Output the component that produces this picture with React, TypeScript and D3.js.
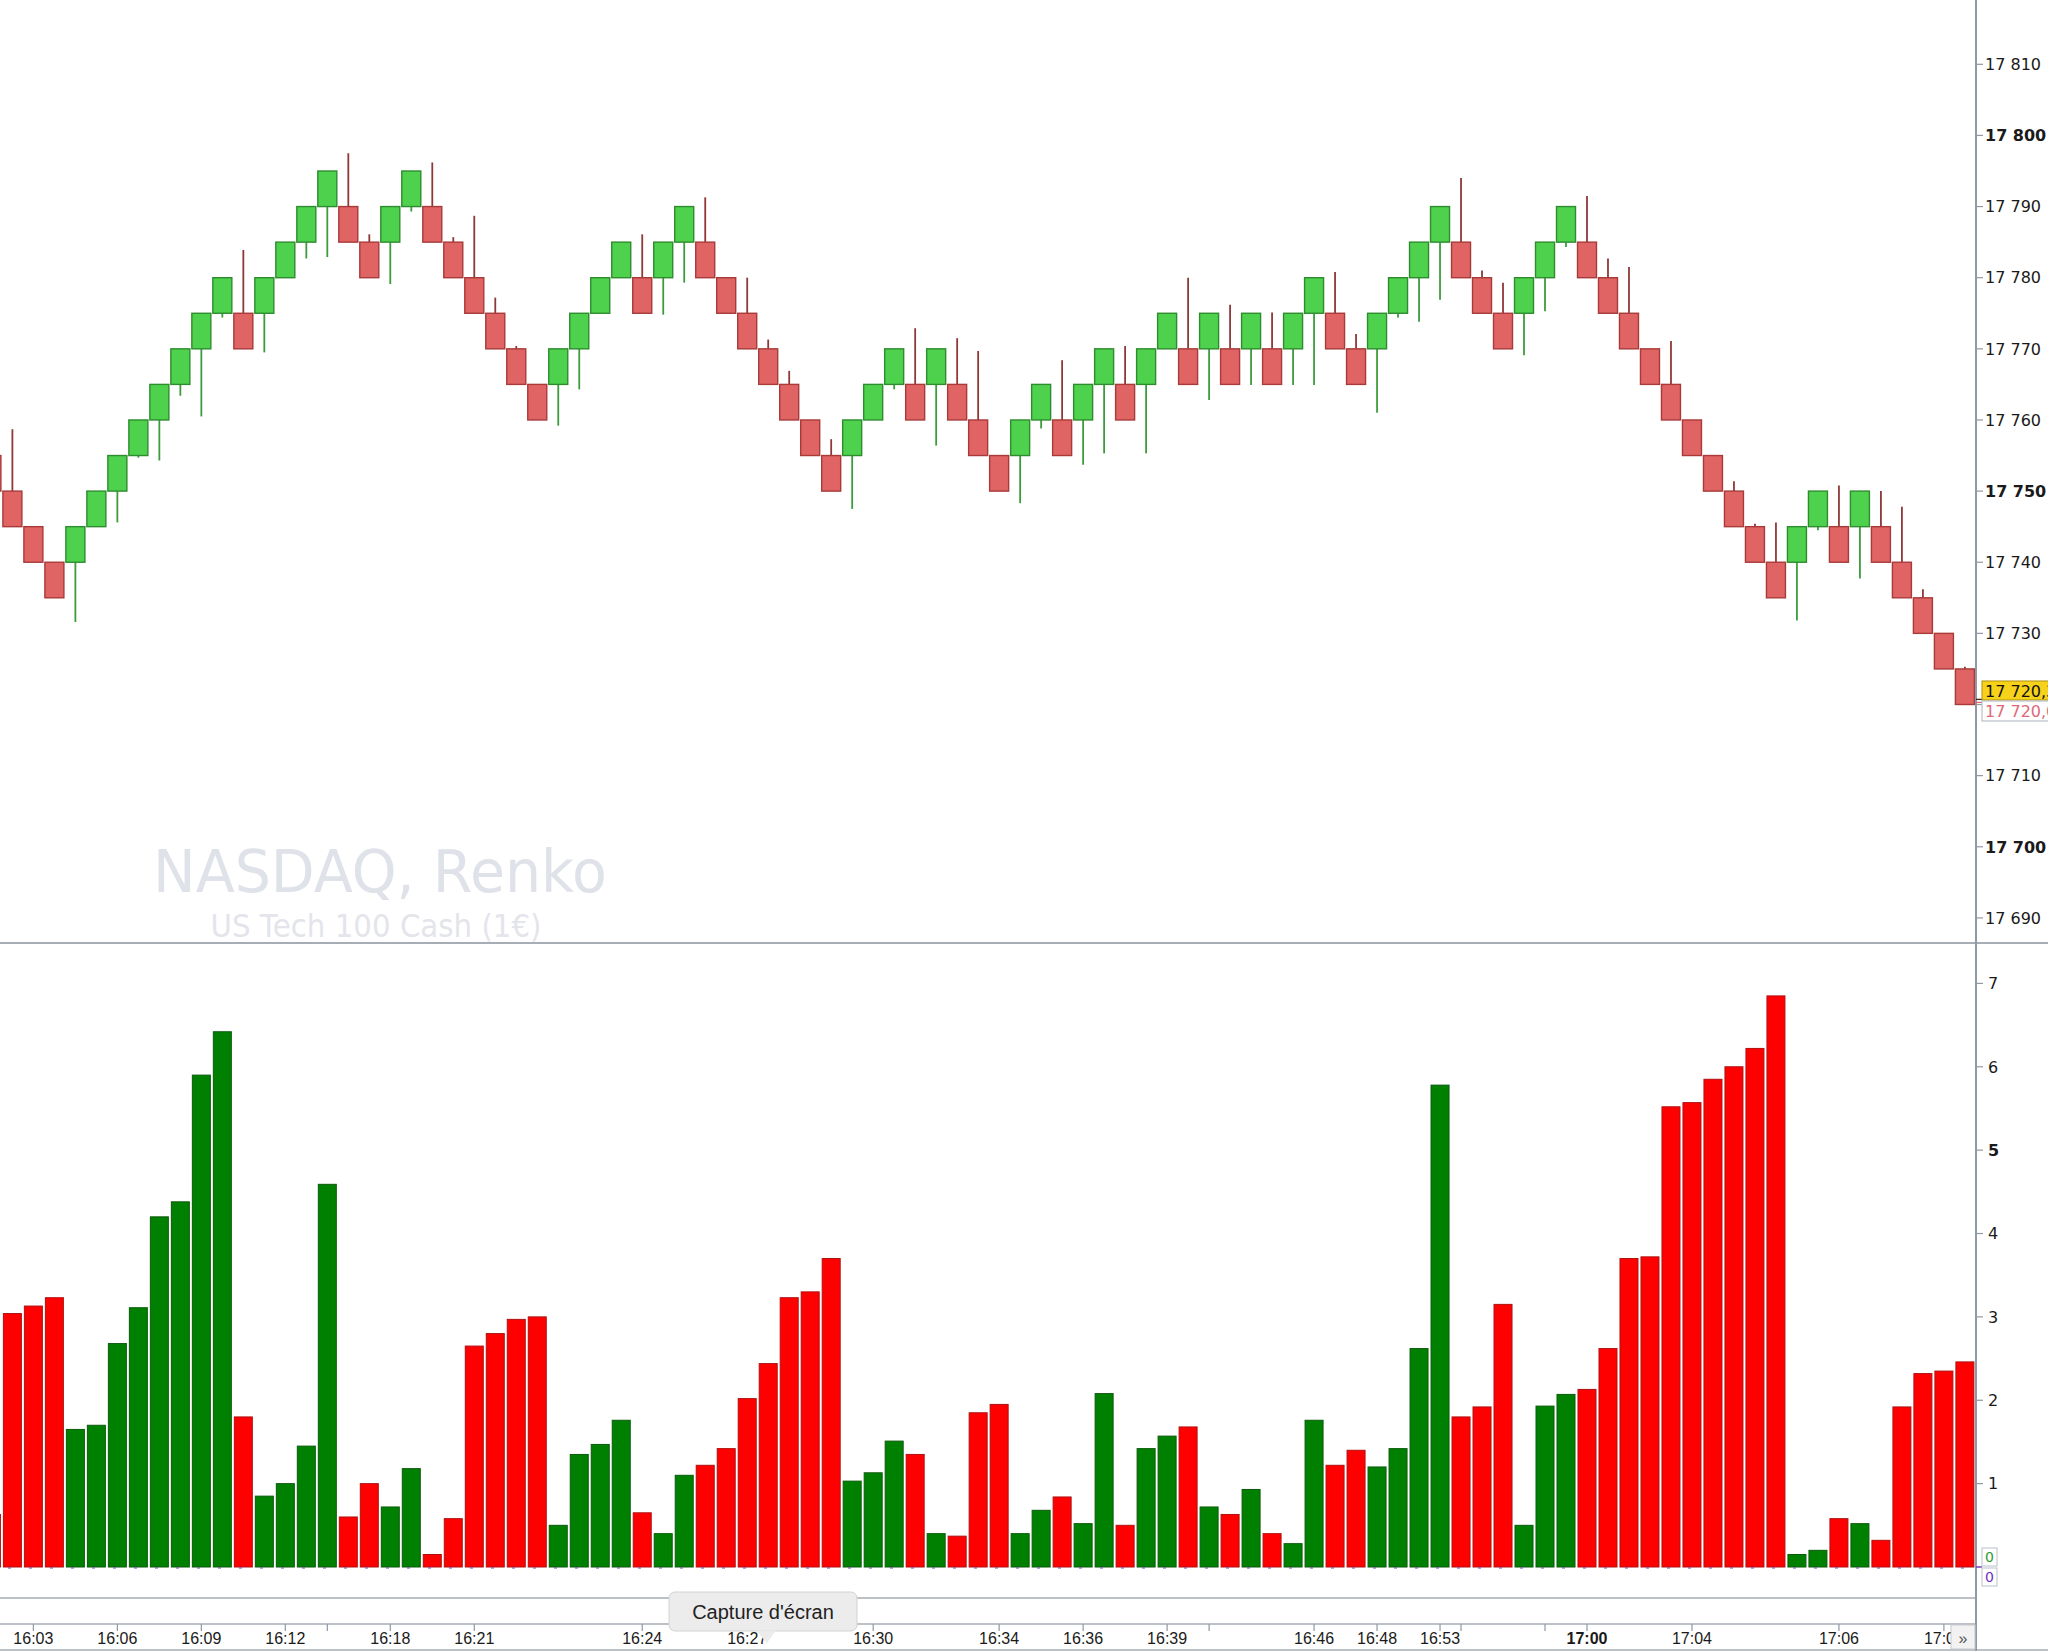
import React, { useEffect } from 'react';
import * as d3 from 'd3';

// Renko bricks (index 0 is the partly hidden column at the left edge)
const brickOpen = [
  17755, 17750, 17745, 17740, 17740, 17745, 17750, 17755, 17760, 17765,
  17770, 17775, 17775, 17775, 17780, 17785, 17790, 17790, 17785, 17785,
  17790, 17790, 17785, 17780, 17775, 17770, 17765, 17765, 17770, 17775,
  17780, 17780, 17780, 17785, 17785, 17780, 17775, 17770, 17765, 17760,
  17755, 17755, 17760, 17765, 17765, 17765, 17765, 17760, 17755, 17755,
  17760, 17760, 17760, 17765, 17765, 17765, 17770, 17770, 17770, 17770,
  17770, 17770, 17770, 17775, 17775, 17770, 17770, 17775, 17780, 17785,
  17785, 17780, 17775, 17775, 17780, 17785, 17785, 17780, 17775, 17770,
  17765, 17760, 17755, 17750, 17745, 17740, 17740, 17745, 17745, 17745,
  17745, 17740, 17735, 17730, 17725,
];
const brickClose = [
  17750, 17745, 17740, 17735, 17745, 17750, 17755, 17760, 17765, 17770,
  17775, 17780, 17770, 17780, 17785, 17790, 17795, 17785, 17780, 17790,
  17795, 17785, 17780, 17775, 17770, 17765, 17760, 17770, 17775, 17780,
  17785, 17775, 17785, 17790, 17780, 17775, 17770, 17765, 17760, 17755,
  17750, 17760, 17765, 17770, 17760, 17770, 17760, 17755, 17750, 17760,
  17765, 17755, 17765, 17770, 17760, 17770, 17775, 17765, 17775, 17765,
  17775, 17765, 17775, 17780, 17770, 17765, 17775, 17780, 17785, 17790,
  17780, 17775, 17770, 17780, 17785, 17790, 17780, 17775, 17770, 17765,
  17760, 17755, 17750, 17745, 17740, 17735, 17745, 17750, 17740, 17750,
  17740, 17735, 17730, 17725, 17720,
];
const brickHigh = [
  17755, 17758.7, 17745, 17740, 17745, 17750, 17755, 17760, 17765, 17770,
  17775, 17780, 17783.9, 17780, 17785, 17790, 17795, 17797.5, 17786.1, 17790,
  17795, 17796.2, 17785.7, 17788.7, 17777.2, 17770.4, 17765, 17770, 17775, 17780,
  17785, 17786.1, 17785, 17790, 17791.3, 17780, 17780, 17771.3, 17766.9, 17760,
  17757.3, 17760, 17765, 17770, 17772.9, 17770, 17771.5, 17769.7, 17755, 17760,
  17765, 17768.4, 17765, 17770, 17770.4, 17770, 17775, 17780, 17775, 17776.2,
  17775, 17775.1, 17775, 17780, 17780.8, 17772.1, 17775, 17780, 17785, 17790,
  17794, 17781, 17779.3, 17780, 17785, 17790, 17791.5, 17782.7, 17781.5, 17770,
  17771.1, 17760, 17755, 17751.4, 17745.4, 17745.6, 17745, 17750, 17750.8, 17750,
  17750, 17747.8, 17736.2, 17730, 17725.3,
];
const brickLow = [
  17750, 17745, 17740, 17735, 17731.6, 17745, 17745.6, 17754.7, 17754.3, 17763.4,
  17760.5, 17774.4, 17770, 17769.5, 17780, 17782.7, 17782.9, 17785, 17780, 17779.1,
  17789.3, 17785, 17780, 17775, 17770, 17765, 17760, 17759.2, 17764.3, 17775,
  17780, 17775, 17774.8, 17779.3, 17780, 17775, 17770, 17765, 17760, 17755,
  17750, 17747.5, 17760, 17764.3, 17760, 17756.4, 17760, 17755, 17750, 17748.3,
  17758.8, 17755, 17753.7, 17755.3, 17760, 17755.3, 17770, 17765, 17762.8, 17765,
  17764.9, 17765, 17764.9, 17764.9, 17770, 17765, 17761, 17774.4, 17773.8, 17776.9,
  17780, 17775, 17770, 17769.1, 17775.3, 17784.3, 17780, 17775, 17770, 17765,
  17760, 17755, 17750, 17745, 17740, 17735, 17731.8, 17744.5, 17740, 17737.7,
  17740, 17735, 17730, 17725, 17720,
];
const volumes = [
  0.63, 3.04, 3.13, 3.23, 1.65, 1.7, 2.68, 3.11, 4.2, 4.38,
  5.9, 6.42, 1.8, 0.85, 1.0, 1.45, 4.59, 0.6, 1.0, 0.72,
  1.18, 0.15, 0.58, 2.65, 2.8, 2.97, 3.0, 0.5, 1.35, 1.47,
  1.76, 0.65, 0.4, 1.1, 1.22, 1.42, 2.02, 2.44, 3.23, 3.3,
  3.7, 1.03, 1.13, 1.51, 1.35, 0.4, 0.37, 1.85, 1.95, 0.4,
  0.68, 0.84, 0.52, 2.08, 0.5, 1.42, 1.57, 1.68, 0.72, 0.63,
  0.93, 0.4, 0.28, 1.76, 1.22, 1.4, 1.2, 1.42, 2.62, 5.78,
  1.8, 1.92, 3.15, 0.5, 1.93, 2.07, 2.13, 2.62, 3.7, 3.72,
  5.52, 5.57, 5.85, 6.0, 6.22, 6.85, 0.15, 0.2, 0.58, 0.52,
  0.32, 1.92, 2.32, 2.35, 2.46,
];

const priceTicks = [17690, 17700, 17710, 17720, 17730, 17740, 17750, 17760, 17770, 17780, 17790, 17800, 17810];
const boldPriceTicks = [17700, 17750, 17800];
const hiddenPriceTicks = [17720];
const volumeTicks = [1, 2, 3, 4, 5, 6, 7];
const boldVolumeTicks = [5];
const timeTickCols = [2, 6, 10, 14, 16, 19, 23, 31, 36, 42, 48, 52, 56, 58, 63, 66, 69, 70, 74, 76, 81, 88, 93];
const timeTickLabels = ['16:03', '16:06', '16:09', '16:12', '', '16:18', '16:21', '16:24', '16:27', '16:30', '16:34', '16:36', '16:39', '', '16:46', '16:48', '16:53', '', '', '17:00', '17:04', '17:06', '17:08'];
const boldTimeLabels = ['17:00'];
const lastPriceLabel = '17 720,3';
const closePriceLabel = '17 720,0';
const lastPrice = 17720.3;
const titleMain = 'NASDAQ, Renko';
const titleSub = 'US Tech 100 Cash (1€)';
const tooltipText = "Capture d'écran";

const fmt = (v: number) => {
  const s = String(v);
  return s.slice(0, s.length - 3) + ' ' + s.slice(s.length - 3);
};

export default function App() {
  useEffect(() => {
    document.body.style.margin = '0';
    document.body.style.overflow = 'hidden';
  }, []);

  const W = 2048;
  const H = 1651;
  const axisX = 1976;
  const x = d3.scaleLinear().domain([0, 94]).range([-8.6, 1964.9]);
  const y = d3.scaleLinear().domain([17690, 17810]).range([917.9, 64.3]);
  const yv = d3.scaleLinear().domain([0, 7]).range([1567, 983.4]);
  const brickW = 19;
  const barW = 18;

  const greenFill = '#4ed24e';
  const greenStroke = '#2e8c2e';
  const redFill = '#e06464';
  const redStroke = '#a83a3a';
  const gridGray = '#a6adb5';
  const fontAxis = 'DejaVu Sans, Verdana, sans-serif';
  const fontTime = 'Liberation Sans, Arial, sans-serif';

  const idx = d3.range(brickOpen.length);

  return (
    <svg width={W} height={H} style={{ position: 'absolute', left: 0, top: 0, background: '#fff' }}>
      <rect x={0} y={0} width={W} height={H} fill="#fff" />
      {/* watermark */}
      <text x={380} y={892} fontFamily={fontAxis} fontSize={58} fill="#dfe2e9" textAnchor="middle" textLength={454} lengthAdjust="spacingAndGlyphs">{titleMain}</text>
      <text x={376} y={937} fontFamily={fontAxis} fontSize={32} fill="#e3e5eb" textAnchor="middle" textLength={331} lengthAdjust="spacingAndGlyphs">{titleSub}</text>

      <g clipPath="url(#plotClip)">
        <defs>
          <clipPath id="plotClip"><rect x={0} y={0} width={axisX} height={H} /></clipPath>
        </defs>
        {/* wicks */}
        {idx.map(i => {
          const up = brickClose[i] > brickOpen[i];
          const top = Math.max(brickOpen[i], brickClose[i]);
          const bot = Math.min(brickOpen[i], brickClose[i]);
          const els = [] as any[];
          if (brickHigh[i] > top + 0.05) els.push(<line key={'h' + i} x1={x(i)} x2={x(i)} y1={y(top)} y2={y(brickHigh[i])} stroke={up ? '#3c9c3c' : '#8e3838'} strokeWidth={1.8} />);
          if (brickLow[i] < bot - 0.05) els.push(<line key={'l' + i} x1={x(i)} x2={x(i)} y1={y(bot)} y2={y(brickLow[i])} stroke={up ? '#3c9c3c' : '#8e3838'} strokeWidth={1.8} />);
          return <g key={'w' + i}>{els}</g>;
        })}
        {/* bricks */}
        {idx.map(i => {
          const up = brickClose[i] > brickOpen[i];
          const top = Math.max(brickOpen[i], brickClose[i]);
          const bot = Math.min(brickOpen[i], brickClose[i]);
          return (
            <rect key={'b' + i} x={x(i) - brickW / 2} y={y(top)} width={brickW} height={y(bot) - y(top)}
              fill={up ? greenFill : redFill} stroke={up ? greenStroke : redStroke} strokeWidth={1.4} />
          );
        })}
        {/* volume bars */}
        {idx.map(i => {
          const up = brickClose[i] > brickOpen[i];
          return (
            <rect key={'v' + i} x={x(i) - barW / 2} y={yv(volumes[i])} width={barW} height={yv(0) - yv(volumes[i])}
              fill={up ? '#008000' : '#ff0000'} stroke={up ? '#0b5a0b' : '#b01010'} strokeWidth={1} />
          );
        })}
        <line x1={0} x2={axisX} y1={yv(0) + 1} y2={yv(0) + 1} stroke="#7a3cc0" strokeWidth={1} strokeDasharray="3 18" strokeDashoffset={-8} />
      </g>

      {/* separators */}
      <line x1={0} x2={W} y1={943} y2={943} stroke={gridGray} strokeWidth={2} />
      <line x1={0} x2={axisX} y1={1598} y2={1598} stroke={gridGray} strokeWidth={1.5} />
      <line x1={0} x2={axisX} y1={1624} y2={1624} stroke={gridGray} strokeWidth={1.5} />
      <line x1={0} x2={W} y1={1650} y2={1650} stroke={gridGray} strokeWidth={1.5} />
      <line x1={axisX} x2={axisX} y1={0} y2={H} stroke="#8f99a4" strokeWidth={2} />

      {/* price axis */}
      {priceTicks.map(t => (
        <g key={'pt' + t}>
          <line x1={axisX} x2={axisX + 7} y1={y(t)} y2={y(t)} stroke="#8f99a4" strokeWidth={1.2} />
          {hiddenPriceTicks.includes(t) ? null : (
            <text x={axisX + 9} y={y(t)} dy="0.36em" fontFamily={fontAxis} fontSize={16}
              fontWeight={boldPriceTicks.includes(t) ? 'bold' : 'normal'} fill="#1a1a1a">{fmt(t)}</text>
          )}
        </g>
      ))}

      {/* last price markers */}
      <line x1={axisX} x2={axisX + 7} y1={y(lastPrice) - 3} y2={y(lastPrice) - 3} stroke="#222" strokeWidth={1.2} />
      <line x1={axisX} x2={axisX + 7} y1={y(lastPrice)} y2={y(lastPrice)} stroke="#e06070" strokeWidth={1.2} />
      <rect x={1982} y={681} width={70} height={19} fill="#f7d21a" stroke="#b0900a" strokeWidth={1} />
      <text x={1985} y={691} dy="0.36em" fontFamily={fontAxis} fontSize={16} fill="#111">{lastPriceLabel}</text>
      <rect x={1982} y={701} width={70} height={20} fill="#fff" stroke="#b9c0c8" strokeWidth={1.2} />
      <text x={1985} y={711.5} dy="0.36em" fontFamily={fontAxis} fontSize={16} fill="#e06878">{closePriceLabel}</text>

      {/* volume axis */}
      {volumeTicks.map(t => (
        <g key={'vt' + t}>
          <line x1={axisX} x2={axisX + 7} y1={yv(t)} y2={yv(t)} stroke="#8f99a4" strokeWidth={1.2} />
          <text x={axisX + 12} y={yv(t)} dy="0.36em" fontFamily={fontAxis} fontSize={16}
            fontWeight={boldVolumeTicks.includes(t) ? 'bold' : 'normal'} fill="#1a1a1a">{t}</text>
        </g>
      ))}
      <line x1={axisX} x2={axisX + 6} y1={yv(0)} y2={yv(0)} stroke="#7a3cc0" strokeWidth={1.5} />
      <rect x={1982} y={1548} width={15} height={18} fill="#fff" stroke="#b9c0c8" strokeWidth={1} />
      <text x={1989.5} y={1557} dy="0.36em" textAnchor="middle" fontFamily={fontAxis} fontSize={14} fill="#2e9a2e">0</text>
      <rect x={1982} y={1568} width={15} height={18} fill="#fff" stroke="#b9c0c8" strokeWidth={1} />
      <text x={1989.5} y={1577} dy="0.36em" textAnchor="middle" fontFamily={fontAxis} fontSize={14} fill="#7030c0">0</text>

      {/* time axis */}
      {timeTickCols.map((c, k) => (
        <g key={'tt' + k}>
          <line x1={x(c)} x2={x(c)} y1={1624} y2={1631} stroke="#8f99a4" strokeWidth={1.2} />
          {timeTickLabels[k] ? (
            <text x={x(c)} y={1644} textAnchor="middle" fontFamily={fontTime} fontSize={16}
              fontWeight={boldTimeLabels.includes(timeTickLabels[k]) ? 'bold' : 'normal'}
              fill="#1a1a1a">{timeTickLabels[k]}</text>
          ) : null}
        </g>
      ))}

      {/* scroll button */}
      <rect x={1951} y={1625} width={24} height={24} fill="#f2f2f2" stroke="#c5cad0" strokeWidth={1} />
      <text x={1963} y={1638} dy="0.35em" textAnchor="middle" fontFamily={fontTime} fontSize={16} fill="#555">»</text>

      {/* tooltip */}
      <g>
        <rect x={669} y={1592} width={188} height={39} rx={6} fill="#ececec" stroke="#d2d2d2" strokeWidth={1} />
        <path d="M756,1630.5 L776,1630.5 L767,1643 Z" fill="#ececec" />
        <text x={763} y={1612} dy="0.36em" textAnchor="middle" fontFamily={fontTime} fontSize={20} fill="#222">{tooltipText}</text>
      </g>
    </svg>
  );
}
